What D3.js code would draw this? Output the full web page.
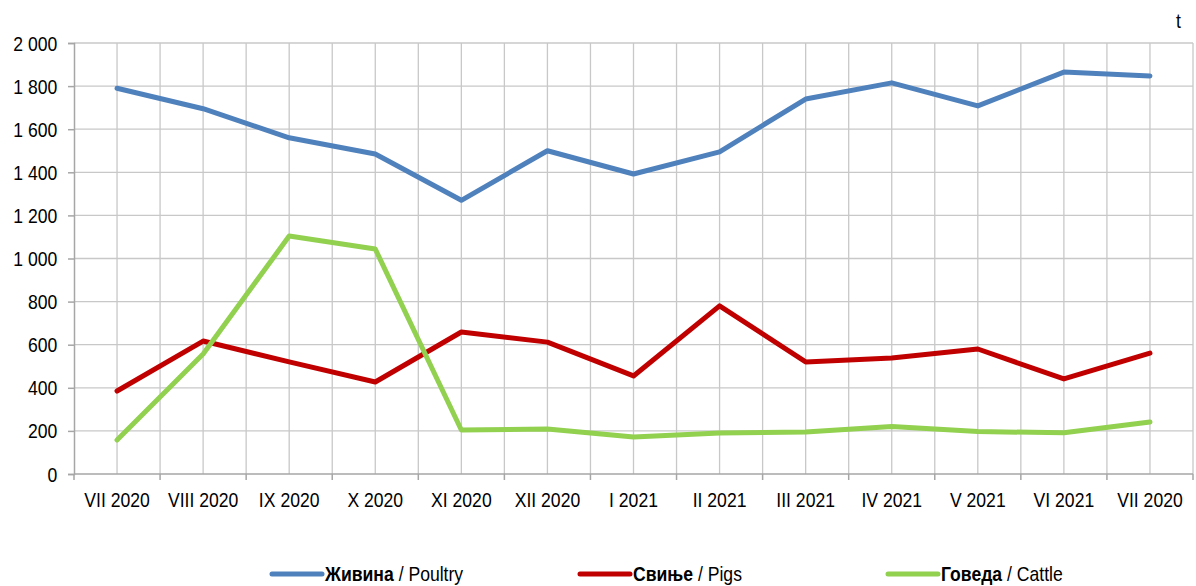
<!DOCTYPE html>
<html>
<head>
<meta charset="utf-8">
<script src="https://cdn.jsdelivr.net/npm/d3@7"></script>
<style>
body { margin: 0; background: #fff; }
text { font-family: "Liberation Sans", Arial, sans-serif; fill: #000; }
</style>
</head>
<body>
<svg></svg>
<script>
var months = ["VII 2020", "VIII 2020", "IX 2020", "X 2020", "XI 2020", "XII 2020", "I 2021",
  "II 2021", "III 2021", "IV 2021", "V 2021", "VI 2021", "VII 2020"];
var poultry = [1790, 1695, 1560, 1485, 1270, 1500, 1392, 1495, 1740, 1815, 1708, 1865, 1847];
var pigs = [385, 617, 520, 427, 659, 612, 455, 780, 520, 538, 580, 441, 561];
var cattle = [158, 557, 1104, 1044, 204, 209, 172, 190, 195, 220, 197, 191, 241];
var yTicks = [0, 200, 400, 600, 800, 1000, 1200, 1400, 1600, 1800, 2000];
var seriesNames = [["Живина", " / Poultry"], ["Свиње", " / Pigs"], ["Говеда", " / Cattle"]];
var seriesColors = ["#4f81bd", "#c00000", "#92d050"];

var width = 1196, height = 586;
var plotLeft = 74, plotRight = 1193, plotTop = 43, plotBottom = 474;
var narrow = "scale(0.88,1)";

var svg = d3.select("svg").attr("width", width).attr("height", height);

var x = d3.scaleBand().domain(d3.range(months.length)).range([plotLeft, plotRight]).padding(0);
var y = d3.scaleLinear().domain([0, 2000]).range([plotBottom, plotTop]);

var bw = x.bandwidth();
var gridX = [];
months.forEach(function(m, i) {
  if (i > 0) gridX.push(x(i));
  gridX.push(x(i) + bw / 2);
});
gridX.push(plotRight);

// vertical grid
svg.selectAll("line.vgrid")
  .data(gridX)
  .enter()
  .append("line")
  .attr("x1", function(d) { return d; })
  .attr("x2", function(d) { return d; })
  .attr("y1", plotTop)
  .attr("y2", plotBottom)
  .attr("stroke", "#c8c8c8")
  .attr("stroke-width", 1.3);

// horizontal grid
svg.selectAll("line.hgrid")
  .data(yTicks.filter(function(d) { return d > 0; }))
  .enter()
  .append("line")
  .attr("x1", plotLeft)
  .attr("x2", plotRight)
  .attr("y1", function(d) { return y(d); })
  .attr("y2", function(d) { return y(d); })
  .attr("stroke", "#c8c8c8")
  .attr("stroke-width", 1.3);

var fmt = function(d) { return d3.format(",")(d).replace(/,/g, " "); };

// y axis
var yAxis = svg.append("g")
  .attr("transform", "translate(" + plotLeft + ",0)")
  .call(d3.axisLeft(y).tickValues(yTicks).tickSize(6).tickPadding(0).tickFormat(fmt));
yAxis.select(".domain").attr("stroke", "#a6a6a6").attr("stroke-width", 1.5);
yAxis.selectAll(".tick line").attr("stroke", "#a6a6a6").attr("stroke-width", 1.5);
yAxis.selectAll("text")
  .attr("x", -19)
  .attr("font-size", 20)
  .attr("font-family", null)
  .attr("dy", "0.35em")
  .attr("transform", narrow);

// x axis
var xAxis = svg.append("g")
  .attr("transform", "translate(0," + plotBottom + ")");
xAxis.append("line")
  .attr("x1", plotLeft).attr("x2", plotRight)
  .attr("stroke", "#a6a6a6").attr("stroke-width", 1.5);
xAxis.selectAll("line.xtick")
  .data(d3.range(months.length + 1))
  .enter()
  .append("line")
  .attr("x1", function(d) { return d < months.length ? x(d) : plotRight; })
  .attr("x2", function(d) { return d < months.length ? x(d) : plotRight; })
  .attr("y1", 0).attr("y2", 6)
  .attr("stroke", "#a6a6a6").attr("stroke-width", 1.5);
xAxis.selectAll("g.xlab")
  .data(months)
  .enter()
  .append("g")
  .attr("transform", function(d, i) { return "translate(" + (x(i) + bw / 2) + ",33)"; })
  .append("text")
  .attr("text-anchor", "middle")
  .attr("font-size", 20)
  .attr("transform", narrow)
  .text(function(d) { return d; });

// lines
var line = d3.line()
  .x(function(d, i) { return x(i) + bw / 2; })
  .y(function(d) { return y(d); });

[poultry, pigs, cattle].forEach(function(s, k) {
  svg.append("path")
    .datum(s)
    .attr("d", line)
    .attr("fill", "none")
    .attr("stroke", seriesColors[k])
    .attr("stroke-width", 5)
    .attr("stroke-linejoin", "round")
    .attr("stroke-linecap", "round");
});

// unit
svg.append("g")
  .attr("transform", "translate(1176,28)")
  .append("text")
  .text("t")
  .attr("font-size", 20)
  .attr("transform", narrow);

// legend
var legendX = [272, 580, 888];
var legend = svg.selectAll("g.legend")
  .data(seriesNames)
  .enter()
  .append("g")
  .attr("transform", function(d, i) { return "translate(" + legendX[i] + ",574)"; });
legend.append("line")
  .attr("x1", 0).attr("x2", 50)
  .attr("stroke", function(d, i) { return seriesColors[i]; })
  .attr("stroke-width", 5)
  .attr("stroke-linecap", "round");
var lt = legend.append("g")
  .attr("transform", "translate(53,0)")
  .append("text")
  .attr("dy", "0.35em")
  .attr("font-size", 20)
  .attr("transform", narrow);
lt.append("tspan").attr("font-weight", "bold").text(function(d) { return d[0]; });
lt.append("tspan").text(function(d) { return d[1]; });
</script>
</body>
</html>
